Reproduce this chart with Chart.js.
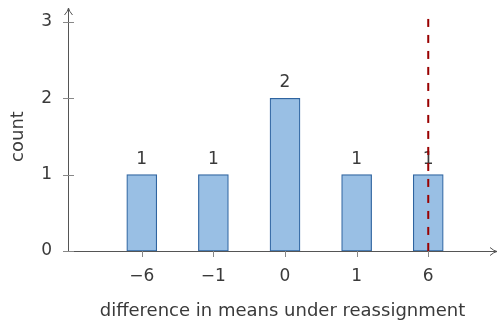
<!DOCTYPE html>
<html lang="en">
<head>
    <meta charset="UTF-8">
    <title>Difference in means</title>
    <script src="https://cdn.jsdelivr.net/npm/chart.js"></script>
    <style>
        html, body { margin: 0; padding: 0; background: #fff; }
        .chart-box { width: 499px; height: 322px; position: relative; }
    </style>
</head>
<body>
    <div class="chart-box">
        <canvas id="diffChart"></canvas>
    </div>

    <script>
        // data
        const diffLabels = ['\u22126', '\u22121', '0', '1', '6'];
        const counts = [1, 1, 2, 1, 1];
        const yTicks = [0, 1, 2, 3];
        const observedIdx = 4;      // observed difference (6) sits on the last category
        const observedTop = 3.04;   // dashed line reaches just above the top tick

        const textColor = '#3a3a3a';
        const axisColor = '#555555';

        Chart.defaults.font.family = "'DejaVu Sans', sans-serif";
        Chart.defaults.font.size = 17;
        Chart.defaults.color = textColor;

        // axes with arrows, crossing ticks, dashed line and bar labels
        const axesPlugin = {
            id: 'axesPlugin',
            afterDatasetsDraw(chart) {
                const ctx = chart.ctx;
                const xs = chart.scales.x;
                const ys = chart.scales.y;
                const x0 = xs.left;
                const y0 = ys.getPixelForValue(0);
                const xEnd = xs.right;
                const yEnd = 8;

                ctx.save();

                // labels above bars
                const meta = chart.getDatasetMeta(0);
                ctx.fillStyle = textColor;
                ctx.font = "17px 'DejaVu Sans', sans-serif";
                ctx.textAlign = 'center';
                ctx.textBaseline = 'bottom';
                meta.data.forEach((bar, i) => {
                    ctx.fillText(String(counts[i]), bar.x, bar.y - 7);
                });

                ctx.strokeStyle = axisColor;
                ctx.lineWidth = 1;

                // x axis
                ctx.beginPath();
                ctx.moveTo(x0, y0 + 0.5);
                ctx.lineTo(xEnd, y0 + 0.5);
                ctx.stroke();
                ctx.beginPath();
                ctx.moveTo(xEnd - 7, y0 - 3.5);
                ctx.quadraticCurveTo(xEnd - 3, y0, xEnd, y0 + 0.5);
                ctx.quadraticCurveTo(xEnd - 3, y0 + 1, xEnd - 7, y0 + 4.5);
                ctx.stroke();

                // y axis
                ctx.beginPath();
                ctx.moveTo(x0 + 0.5, y0);
                ctx.lineTo(x0 + 0.5, yEnd);
                ctx.stroke();
                ctx.beginPath();
                ctx.moveTo(x0 - 3.5, yEnd + 7);
                ctx.quadraticCurveTo(x0, yEnd + 3, x0 + 0.5, yEnd);
                ctx.quadraticCurveTo(x0 + 1, yEnd + 3, x0 + 4.5, yEnd + 7);
                ctx.stroke();

                // y ticks cross the axis
                ctx.strokeStyle = '#888888';
                yTicks.forEach(v => {
                    const py = Math.round(ys.getPixelForValue(v)) + 0.5;
                    ctx.beginPath();
                    ctx.moveTo(x0 - 5, py);
                    ctx.lineTo(x0 + 6, py);
                    ctx.stroke();
                });

                // x ticks hang below
                diffLabels.forEach((_, i) => {
                    const px = Math.round(xs.getPixelForValue(i)) + 0.5;
                    ctx.beginPath();
                    ctx.moveTo(px, y0);
                    ctx.lineTo(px, y0 + 6);
                    ctx.stroke();
                });

                // observed difference
                const ox = xs.getPixelForValue(observedIdx);
                ctx.strokeStyle = '#990000';
                ctx.lineWidth = 2;
                ctx.setLineDash([8, 8]);
                ctx.beginPath();
                ctx.moveTo(ox, ys.getPixelForValue(observedTop));
                ctx.lineTo(ox, y0);
                ctx.stroke();

                ctx.restore();
            }
        };

        const ctx = document.getElementById('diffChart').getContext('2d');
        new Chart(ctx, {
            type: 'bar',
            data: {
                datasets: [{
                    data: counts.map((c, i) => ({ x: i, y: c })),
                    backgroundColor: '#99bfe4',
                    borderColor: '#2f64a0',
                    borderWidth: 1.2,
                    borderSkipped: false,
                    barThickness: 30
                }]
            },
            options: {
                responsive: true,
                maintainAspectRatio: false,
                animation: false,
                layout: { padding: { top: 22, right: 2, left: 0, bottom: 0 } },
                plugins: {
                    legend: { display: false },
                    tooltip: { enabled: false }
                },
                scales: {
                    x: {
                        type: 'linear',
                        offset: false,
                        min: -1.03,
                        max: 4.96,
                        grid: { display: false },
                        border: { display: false },
                        ticks: {
                            padding: 7,
                            callback: v => diffLabels[v]
                        },
                        afterBuildTicks: s => { s.ticks = diffLabels.map((_, i) => ({ value: i })); },
                        afterFit: s => { s.height = 71; },
                        title: {
                            display: true,
                            text: 'difference in means under reassignment',
                            font: { size: 18 },
                            padding: { top: 0, bottom: 0 }
                        }
                    },
                    y: {
                        min: 0,
                        max: 3,
                        grid: { display: false },
                        border: { display: false },
                        ticks: { stepSize: 1, padding: 8 },
                        afterBuildTicks: s => { s.ticks = yTicks.map(v => ({ value: v })); },
                        afterFit: s => { s.width = 68; },
                        title: {
                            display: true,
                            text: 'count',
                            font: { size: 18 },
                            padding: { top: 8, bottom: 0 }
                        }
                    }
                }
            },
            plugins: [axesPlugin]
        });
    </script>
</body>
</html>
